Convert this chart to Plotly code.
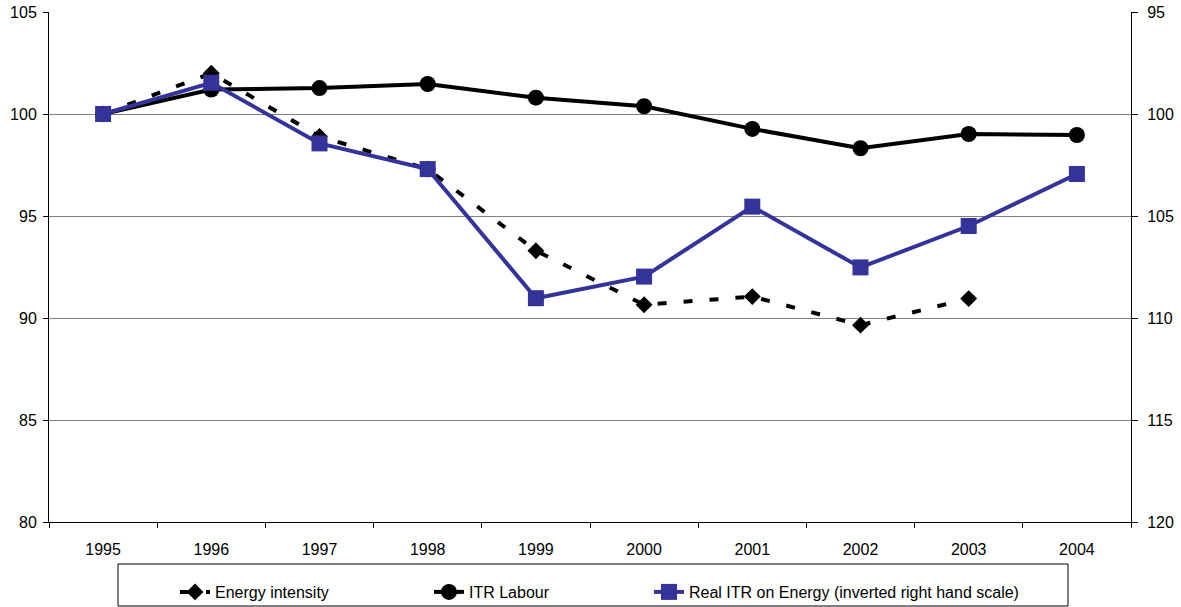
import plotly.graph_objects as go

years = ["1995", "1996", "1997", "1998", "1999", "2000", "2001", "2002", "2003", "2004"]
energy_intensity = [100.0, 102.0, 98.9, 97.3, 93.3, 90.65, 91.05, 89.65, 90.95, None]
itr_labour = [100.0, 101.2, 101.27, 101.47, 100.8, 100.38, 99.27, 98.32, 99.02, 98.97]
real_itr_energy = [100.0, 98.47, 101.44, 102.7, 109.03, 107.97, 104.54, 107.52, 105.49, 102.94]

left_ticks = [80, 85, 90, 95, 100, 105]
right_ticks = [95, 100, 105, 110, 115, 120]

BLUE = "#333399"
FONT = "Liberation Sans, Arial, sans-serif"

fig = go.Figure()

fig.add_trace(go.Scatter(
    x=years, y=energy_intensity, name="Energy intensity", mode="lines+markers",
    line=dict(color="black", width=4, dash="9px,17px"),
    marker=dict(symbol="diamond", size=13, color="black"),
    connectgaps=False, legend="legend", yaxis="y"))

fig.add_trace(go.Scatter(
    x=years, y=itr_labour, name="ITR Labour", mode="lines+markers",
    line=dict(color="black", width=4),
    marker=dict(symbol="circle", size=16, color="black"),
    legend="legend2", yaxis="y"))

fig.add_trace(go.Scatter(
    x=years, y=real_itr_energy, name="Real ITR on Energy (inverted right hand scale)",
    mode="lines+markers",
    line=dict(color=BLUE, width=4),
    marker=dict(symbol="square", size=16, color=BLUE),
    legend="legend3", yaxis="y2"))

W, H = 1181, 607
ml, mr, mt, mb = 49, 50, 12, 85
pw = W - ml - mr
ph = H - mt - mb

def px_x(p):
    return (p - ml) / pw

def px_y(p):
    return (H - mb - p) / ph

leg_common = dict(orientation="h", bgcolor="rgba(0,0,0,0)", borderwidth=0,
                  font=dict(family=FONT, size=16, color="black"),
                  yanchor="middle", xanchor="left", y=px_y(592))

fig.update_layout(
    width=W, height=H,
    margin=dict(l=ml, r=mr, t=mt, b=mb, autoexpand=False),
    paper_bgcolor="white", plot_bgcolor="white",
    font=dict(family=FONT, size=16, color="black"),
    xaxis=dict(
        type="category", categoryorder="array", categoryarray=years,
        showline=True, linecolor="black", linewidth=1,
        ticks="outside", tickson="boundaries", ticklen=5, tickcolor="black",
        showgrid=False, ticklabelstandoff=13, automargin=False,
        tickfont=dict(family=FONT, size=16), range=[-0.5, 9.5]),
    yaxis=dict(
        range=[80, 105], tickvals=left_ticks, showline=True, linecolor="black",
        linewidth=1, ticks="outside", ticklen=5, tickcolor="black",
        showgrid=True, gridcolor="#808080", gridwidth=1, zeroline=False,
        tickfont=dict(family=FONT, size=16), ticklabelstandoff=3, automargin=False),
    yaxis2=dict(
        range=[120, 95], tickvals=right_ticks, overlaying="y", side="right",
        showline=True, linecolor="black", linewidth=1, ticks="outside",
        ticklen=6, tickcolor="black", showgrid=False, zeroline=False,
        tickfont=dict(family=FONT, size=16), ticklabelstandoff=6, automargin=False),
    legend=dict(x=px_x(175), **leg_common),
    legend2=dict(x=px_x(429), **leg_common),
    legend3=dict(x=px_x(649), **leg_common),
    shapes=[dict(type="rect", xref="paper", yref="paper",
                 x0=px_x(118), x1=px_x(1068), y0=px_y(564), y1=px_y(606),
                 line=dict(color="black", width=1), fillcolor="rgba(0,0,0,0)")],
    showlegend=True,
)

fig.write_html(
    "out.html",
    config={"displayModeBar": False},
    post_script="document.body.style.margin='0';document.body.style.overflow='hidden';",
)
